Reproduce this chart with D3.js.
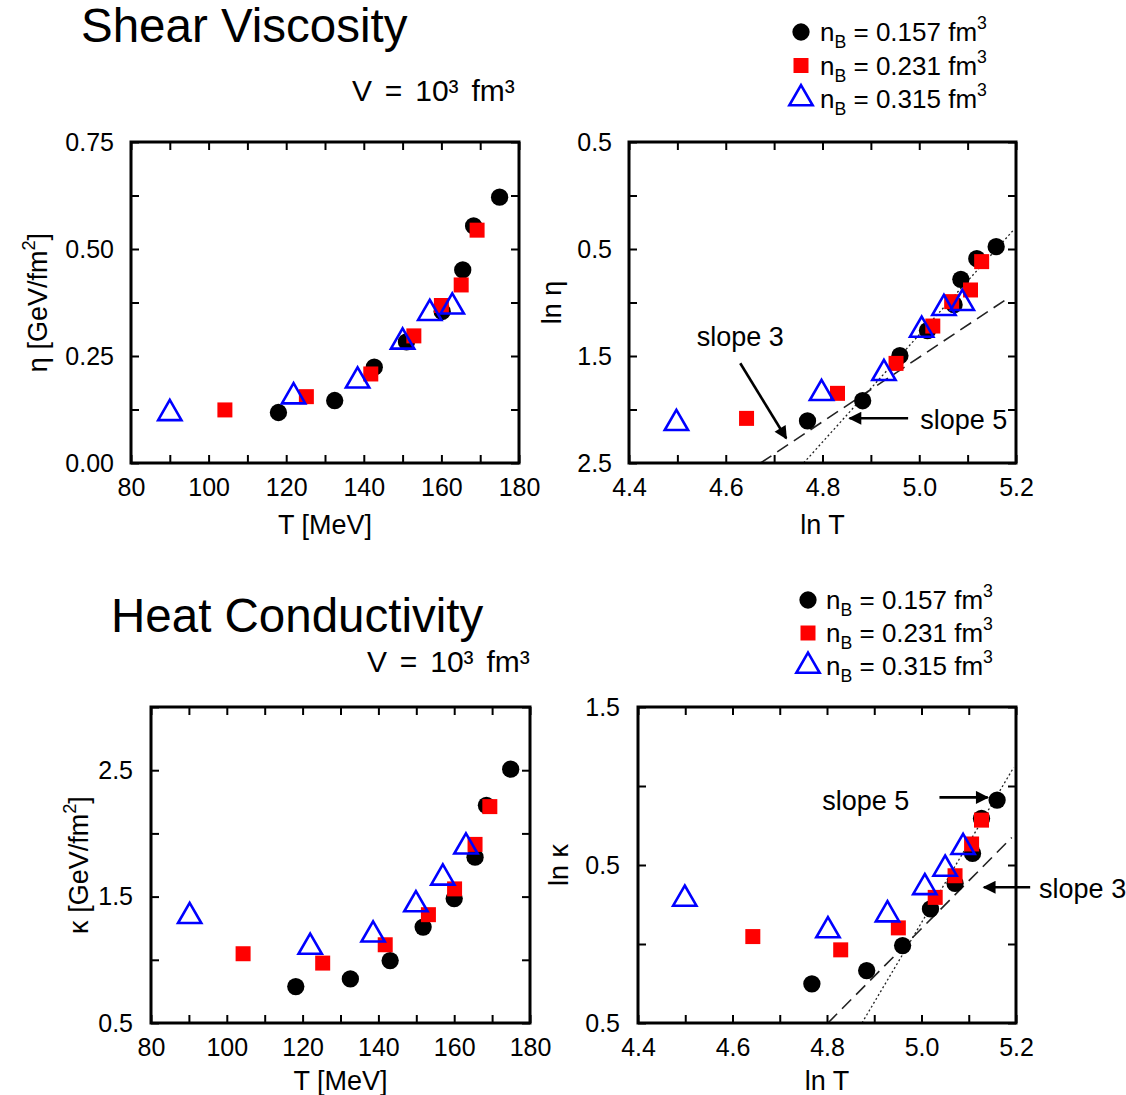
<!DOCTYPE html>
<html>
<head>
<meta charset="utf-8">
<script src="https://cdn.jsdelivr.net/npm/d3@7"></script>
<style>
  html, body { margin: 0; padding: 0; background: #ffffff; }
  text { font-family: "Liberation Sans", Arial, Helvetica, sans-serif; fill: #000; }
</style>
</head>
<body>
<svg id="chart" width="1126" height="1095"></svg>
<script>
// ---------------- DATA ----------------
// Series labels
const seriesNames = ["0.157", "0.231", "0.315"];

// Shear viscosity vs T  (T in MeV, eta in GeV/fm^2)
const shearT_157 = [118, 132.5, 142.7, 151, 160.2, 165.5, 168.3, 175];
const shearEta_157 = [0.118, 0.146, 0.224, 0.283, 0.354, 0.451, 0.554, 0.621];
const shearT_231 = [104.2, 125.2, 141.8, 152.9, 160, 165.1, 169.2];
const shearEta_231 = [0.124, 0.155, 0.208, 0.297, 0.368, 0.416, 0.544];
const shearT_315 = [90, 121.9, 138.4, 150, 157, 162.8];
const shearEta_315 = [0.116, 0.155, 0.192, 0.283, 0.350, 0.365];

// ln eta vs ln T
const lnShearT_157 = [4.769, 4.883, 4.960, 5.017, 5.072, 5.086, 5.119, 5.159];
const lnShearEta_157 = [-2.107, -1.918, -1.497, -1.262, -1.020, -0.783, -0.590, -0.478];
const lnShearT_231 = [4.643, 4.831, 4.952, 5.028, 5.067, 5.106, 5.129];
const lnShearEta_231 = [-2.083, -1.849, -1.569, -1.220, -0.992, -0.883, -0.618];
const lnShearT_315 = [4.498, 4.798, 4.927, 5.005, 5.051, 5.089];
const lnShearEta_315 = [-2.129, -1.849, -1.662, -1.257, -1.054, -1.007];

// Heat conductivity vs T
const heatT_157 = [118.2, 132.6, 143.1, 151.8, 160, 165.5, 168.5, 174.9];
const heatKappa_157 = [0.788, 0.849, 0.994, 1.259, 1.484, 1.812, 2.222, 2.508];
const heatT_231 = [104.3, 125.3, 141.8, 153.2, 160.1, 165.5, 169.4];
const heatKappa_231 = [1.048, 0.974, 1.119, 1.357, 1.561, 1.913, 2.212];
const heatT_315 = [90.2, 122, 138.6, 149.9, 157, 163.1];
const heatKappa_315 = [1.344, 1.101, 1.198, 1.437, 1.648, 1.894];

// ln kappa vs ln T
const lnHeatT_157 = [4.768, 4.884, 4.960, 5.019, 5.071, 5.108, 5.127, 5.160];
const lnHeatKappa_157 = [-0.252, -0.168, -0.010, 0.222, 0.384, 0.573, 0.795, 0.911];
const lnHeatT_231 = [4.643, 4.829, 4.951, 5.029, 5.071, 5.106, 5.127];
const lnHeatKappa_231 = [0.047, -0.037, 0.102, 0.295, 0.432, 0.633, 0.784];
const lnHeatT_315 = [4.499, 4.802, 4.928, 5.007, 5.050, 5.088];
const lnHeatKappa_315 = [0.285, 0.085, 0.186, 0.358, 0.475, 0.612];

// Reference slope lines (endpoints in data units)
const shearSlope3X = [4.672, 5.183], shearSlope3Y = [-2.5, -0.961];
const shearSlope5X = [4.761, 5.195], shearSlope5Y = [-2.5, -0.322];
const heatSlope3X = [4.802, 5.191], heatSlope3Y = [-0.5, 0.674];
const heatSlope5X = [4.874, 5.195], heatSlope5Y = [-0.5, 1.117];

// Tick values and labels
const tempTicks = [80, 90, 100, 110, 120, 130, 140, 150, 160, 170, 180];
const tempTickLabelVals = [80, 100, 120, 140, 160, 180];
const tempTickLabels = ["80", "100", "120", "140", "160", "180"];
const lnTTicks = [4.4, 4.5, 4.6, 4.7, 4.8, 4.9, 5.0, 5.1, 5.2];
const lnTTickLabelVals = [4.4, 4.6, 4.8, 5.0, 5.2];
const lnTTickLabels = ["4.4", "4.6", "4.8", "5.0", "5.2"];
const shearTicks = [0, 0.125, 0.25, 0.375, 0.5, 0.625, 0.75];
const shearTickLabelVals = [0, 0.25, 0.5, 0.75];
const shearTickLabels = ["0.00", "0.25", "0.50", "0.75"];
const lnShearTicks = [0.5, 0, -0.5, -1, -1.5, -2, -2.5];
const lnShearTickLabelVals = [0.5, -0.5, -1.5, -2.5];
const lnShearTickLabels = ["0.5", "0.5", "1.5", "2.5"];
const heatTicks = [0.5, 1.0, 1.5, 2.0, 2.5, 3.0];
const heatTickLabelVals = [0.5, 1.5, 2.5];
const heatTickLabels = ["0.5", "1.5", "2.5"];
const lnHeatTicks = [-0.5, 0, 0.5, 1.0, 1.5];
const lnHeatTickLabelVals = [1.5, 0.5, -0.5];
const lnHeatTickLabels = ["1.5", "0.5", "0.5"];

// ---------------- STYLE ----------------
const FONT_TICK = 25, FONT_AXIS = 27, FONT_TITLE = 47.5, FONT_LEG = 26, FONT_ANN = 27, FONT_VOL = 30;
const markerStyles = [
  { type: d3.symbolCircle, size: 235, fill: "#000000", stroke: "none", sw: 0 },
  { type: d3.symbolSquare, size: 225, fill: "#ff0000", stroke: "none", sw: 0 },
  { type: d3.symbolTriangle, size: 235, fill: "none", stroke: "#0000ff", sw: 2.6 }
];

const svg = d3.select("#chart");

const defs = svg.append("defs");
defs.append("marker")
  .attr("id", "arrowhead")
  .attr("viewBox", "0 0 10 10")
  .attr("refX", 9).attr("refY", 5)
  .attr("markerWidth", 6).attr("markerHeight", 5)
  .attr("markerUnits", "strokeWidth")
  .attr("orient", "auto")
  .append("path").attr("d", "M0,0 L10,5 L0,10 Z").attr("fill", "#000");

// Rich text helper: parts [{t, sup, sub}]
function richText(sel, parts, size) {
  let shift = 0;
  parts.forEach(p => {
    const ts = sel.append("tspan").text(p.t);
    let target = 0, fs = size;
    if (p.sup) { target = -0.45 * size; fs = 0.68 * size; }
    if (p.sub) { target = 0.28 * size; fs = 0.68 * size; }
    ts.attr("dy", target - shift).attr("font-size", fs);
    shift = target;
  });
}

function drawMarker(g, styleIdx, cx, cy) {
  const st = markerStyles[styleIdx];
  g.append("path")
    .attr("d", d3.symbol().type(st.type).size(st.size)())
    .attr("transform", `translate(${cx},${cy})`)
    .attr("fill", st.fill)
    .attr("stroke", st.stroke)
    .attr("stroke-width", st.sw);
}

function drawPanel(cfg, idx) {
  const { box } = cfg;
  const x = d3.scaleLinear().domain(cfg.xDomain).range([box.x0, box.x1]);
  const y = d3.scaleLinear().domain(cfg.yDomain).range([box.y1, box.y0]);
  const g = svg.append("g");

  const key = v => (+v).toFixed(3);
  const xLab = new Map(cfg.xLabelVals.map((v, i) => [key(v), cfg.xLabels[i]]));
  const yLab = new Map(cfg.yLabelVals.map((v, i) => [key(v), cfg.yLabels[i]]));

  const styleAxis = a => {
    a.select(".domain").remove();
    a.selectAll(".tick line").attr("stroke", "#000").attr("stroke-width", 2);
    a.selectAll(".tick text").attr("font-size", FONT_TICK).attr("font-family", null).attr("fill", "#000");
  };

  g.append("g").attr("transform", `translate(0,${box.y1})`)
    .call(d3.axisBottom(x).tickValues(cfg.xTicks).tickSizeInner(-8).tickSizeOuter(0).tickPadding(15)
      .tickFormat(v => xLab.get(key(v)) || ""))
    .call(styleAxis);
  g.append("g").attr("transform", `translate(0,${box.y0})`)
    .call(d3.axisTop(x).tickValues(cfg.xTicks).tickSizeInner(-8).tickSizeOuter(0).tickFormat(""))
    .call(styleAxis);
  g.append("g").attr("transform", `translate(${box.x0},0)`)
    .call(d3.axisLeft(y).tickValues(cfg.yTicks).tickSizeInner(-8).tickSizeOuter(0).tickPadding(cfg.yPad)
      .tickFormat(v => yLab.get(key(v)) || ""))
    .call(styleAxis);
  g.append("g").attr("transform", `translate(${box.x1},0)`)
    .call(d3.axisRight(y).tickValues(cfg.yTicks).tickSizeInner(-8).tickSizeOuter(0).tickFormat(""))
    .call(styleAxis);

  // clip
  const clipId = "clip" + idx;
  defs.append("clipPath").attr("id", clipId).append("rect")
    .attr("x", box.x0).attr("y", box.y0).attr("width", box.x1 - box.x0).attr("height", box.y1 - box.y0);

  // slope lines
  (cfg.lines || []).forEach(L => {
    const pts = L.x.map((xv, i) => [x(xv), y(L.y[i])]);
    g.append("path")
      .attr("clip-path", `url(#${clipId})`)
      .attr("d", d3.line()(pts))
      .attr("fill", "none").attr("stroke", "#222").attr("stroke-width", L.dash === "dot" ? 1.3 : 1.6)
      .attr("stroke-dasharray", L.dash === "dot" ? "2,2.5" : "13,7");
  });

  // series
  cfg.series.forEach((s, si) => {
    const sg = g.append("g");
    s.x.forEach((xv, i) => drawMarker(sg, si, x(xv), y(s.y[i])));
  });

  // frame
  g.append("rect").attr("x", box.x0).attr("y", box.y0)
    .attr("width", box.x1 - box.x0).attr("height", box.y1 - box.y0)
    .attr("fill", "none").attr("stroke", "#000").attr("stroke-width", 3);

  // annotations
  (cfg.annotations || []).forEach(a => {
    g.append("line")
      .attr("x1", x(a.ax1)).attr("y1", y(a.ay1)).attr("x2", x(a.ax2)).attr("y2", y(a.ay2))
      .attr("stroke", "#000").attr("stroke-width", 2.6).attr("marker-end", "url(#arrowhead)");
    g.append("text").attr("x", x(a.x)).attr("y", y(a.y)).attr("dy", "0.35em")
      .attr("text-anchor", "middle").attr("font-size", FONT_ANN).text(a.text);
  });

  // axis titles
  const xt = g.append("text").attr("x", (box.x0 + box.x1) / 2).attr("y", cfg.xTitleY)
    .attr("text-anchor", "middle").attr("font-size", FONT_AXIS);
  richText(xt, cfg.xTitle, FONT_AXIS);
  const yt = g.append("text")
    .attr("transform", `translate(${cfg.yTitleX},${(box.y0 + box.y1) / 2}) rotate(-90)`)
    .attr("text-anchor", "middle").attr("font-size", FONT_AXIS);
  richText(yt, cfg.yTitle, FONT_AXIS);
}

const panels = [
  {
    box: { x0: 131, x1: 519, y0: 142, y1: 463 },
    xDomain: [80, 180], yDomain: [0, 0.75],
    xTicks: tempTicks, xLabelVals: tempTickLabelVals, xLabels: tempTickLabels,
    yTicks: shearTicks, yLabelVals: shearTickLabelVals, yLabels: shearTickLabels, yPad: 17,
    series: [
      { x: shearT_157, y: shearEta_157 },
      { x: shearT_231, y: shearEta_231 },
      { x: shearT_315, y: shearEta_315 }
    ],
    xTitle: [{ t: "T [MeV]" }], xTitleY: 534,
    yTitle: [{ t: "η [GeV/fm" }, { t: "2", sup: true }, { t: "]" }], yTitleX: 47
  },
  {
    box: { x0: 629, x1: 1016, y0: 142, y1: 463 },
    xDomain: [4.4, 5.2], yDomain: [-2.5, 0.5],
    xTicks: lnTTicks, xLabelVals: lnTTickLabelVals, xLabels: lnTTickLabels,
    yTicks: lnShearTicks, yLabelVals: lnShearTickLabelVals, yLabels: lnShearTickLabels, yPad: 17,
    series: [
      { x: lnShearT_157, y: lnShearEta_157 },
      { x: lnShearT_231, y: lnShearEta_231 },
      { x: lnShearT_315, y: lnShearEta_315 }
    ],
    lines: [
      { x: shearSlope3X, y: shearSlope3Y, dash: "dash" },
      { x: shearSlope5X, y: shearSlope5Y, dash: "dot" }
    ],
    annotations: [
      { text: "slope 3", x: 4.630, y: -1.32, ax1: 4.630, ay1: -1.568, ax2: 4.725, ay2: -2.269 },
      { text: "slope 5", x: 5.092, y: -2.092, ax1: 4.977, ay1: -2.082, ax2: 4.856, ay2: -2.082 }
    ],
    xTitle: [{ t: "ln T" }], xTitleY: 534,
    yTitle: [{ t: "ln η" }], yTitleX: 561
  },
  {
    box: { x0: 151, x1: 530, y0: 707, y1: 1023 },
    xDomain: [80, 180], yDomain: [0.5, 3.0],
    xTicks: tempTicks, xLabelVals: tempTickLabelVals, xLabels: tempTickLabels,
    yTicks: heatTicks, yLabelVals: heatTickLabelVals, yLabels: heatTickLabels, yPad: 18,
    series: [
      { x: heatT_157, y: heatKappa_157 },
      { x: heatT_231, y: heatKappa_231 },
      { x: heatT_315, y: heatKappa_315 }
    ],
    xTitle: [{ t: "T [MeV]" }], xTitleY: 1090,
    yTitle: [{ t: "κ [GeV/fm" }, { t: "2", sup: true }, { t: "]" }], yTitleX: 88
  },
  {
    box: { x0: 638, x1: 1016, y0: 707, y1: 1023 },
    xDomain: [4.4, 5.2], yDomain: [-0.5, 1.5],
    xTicks: lnTTicks, xLabelVals: lnTTickLabelVals, xLabels: lnTTickLabels,
    yTicks: lnHeatTicks, yLabelVals: lnHeatTickLabelVals, yLabels: lnHeatTickLabels, yPad: 18,
    series: [
      { x: lnHeatT_157, y: lnHeatKappa_157 },
      { x: lnHeatT_231, y: lnHeatKappa_231 },
      { x: lnHeatT_315, y: lnHeatKappa_315 }
    ],
    lines: [
      { x: heatSlope3X, y: heatSlope3Y, dash: "dash" },
      { x: heatSlope5X, y: heatSlope5Y, dash: "dot" }
    ],
    annotations: [
      { text: "slope 5", x: 4.882, y: 0.911, ax1: 5.038, ay1: 0.928, ax2: 5.140, ay2: 0.928 },
      { text: "slope 3", x: 5.341, y: 0.352, ax1: 5.230, ay1: 0.359, ax2: 5.132, ay2: 0.359 }
    ],
    xTitle: [{ t: "ln T" }], xTitleY: 1090,
    yTitle: [{ t: "ln κ" }], yTitleX: 568
  }
];

panels.forEach((p, i) => drawPanel(p, i));

// ---------------- TITLES, VOLUME LABELS, LEGENDS ----------------
svg.append("text").attr("x", 81).attr("y", 42).attr("font-size", FONT_TITLE).text("Shear Viscosity");
svg.append("text").attr("x", 111).attr("y", 632).attr("font-size", FONT_TITLE).text("Heat Conductivity");

function volumeLabel(xp, yp) {
  svg.append("text").attr("x", xp).attr("y", yp)
    .attr("font-size", FONT_VOL).attr("word-spacing", 4.5)
    .text("V = 10³ fm³");
}
volumeLabel(352, 101);
volumeLabel(367, 672);

function legend(mx, tx, rowYs) {
  seriesNames.forEach((name, i) => {
    const g = svg.append("g");
    drawMarker(g, i, mx, rowYs[i]);
    const t = g.append("text").attr("x", tx).attr("y", rowYs[i] + 9).attr("font-size", FONT_LEG);
    richText(t, [{ t: "n" }, { t: "B", sub: true }, { t: " = " + name + " fm" }, { t: "3", sup: true }], FONT_LEG);
  });
}
legend(801, 820, [32, 65.5, 98.5]);
legend(808, 826, [600, 633, 666]);
</script>
</body>
</html>
